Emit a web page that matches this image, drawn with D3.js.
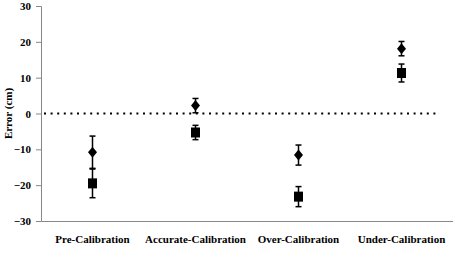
<!DOCTYPE html>
<html><head><meta charset="utf-8">
<script src="https://cdn.jsdelivr.net/npm/d3@7"></script>
<style>body{margin:0;background:#fff}svg{display:block}</style>
</head><body>
<svg id="c" width="453" height="255"></svg>
<script>
const categories = ["Pre-Calibration","Accurate-Calibration","Over-Calibration","Under-Calibration"];
const diamondValues = [-10.8, 2.2, -11.6, 18.1];
const diamondErrors = [4.5, 2.0, 2.8, 2.0];
const squareValues = [-19.5, -5.3, -23.2, 11.3];
const squareErrors = [4.0, 2.0, 2.8, 2.5];
const yTicks = [-30,-20,-10,0,10,20,30];

const svg = d3.select("#c");
const m = {l:41, r:0, t:6, b:34};
const W = 453, H = 255;
const x = d3.scaleBand().domain(categories).range([m.l, W - m.r]);
const y = d3.scaleLinear().domain([-30,30]).range([H - m.b, m.t]);
const font = "'Liberation Serif', 'Times New Roman', serif";

// y axis
const ya = svg.append("g").attr("transform",`translate(${m.l},0)`)
  .call(d3.axisLeft(y).tickValues(yTicks).tickSizeOuter(0).tickSize(5).tickPadding(5));
ya.select(".domain").attr("stroke","#888");
ya.selectAll(".tick line").attr("stroke","#888");
ya.selectAll("text").attr("font-family",font).attr("font-weight","bold").attr("font-size",11).attr("fill","#000");

// x axis
const xa = svg.append("g").attr("transform",`translate(0,${y(-30)})`)
  .call(d3.axisBottom(x).tickSize(0).tickPadding(14));
xa.select(".domain").attr("stroke","#888");
xa.selectAll("text").attr("font-family",font).attr("font-weight","bold").attr("font-size",11).attr("fill","#000");

// zero dotted line
svg.append("line").attr("x1",x.range()[0]+3).attr("x2",437)
  .attr("y1",y(0)).attr("y2",y(0))
  .attr("stroke","#000").attr("stroke-width",2).attr("stroke-dasharray","2,4.6");

// y label
svg.append("text").attr("transform",`translate(12,${y(0)}) rotate(-90)`)
  .attr("text-anchor","middle").attr("font-family",font).attr("font-weight","bold")
  .attr("font-size",11).text("Error (cm)");

function drawSeries(vals, errs, shape){
  const g = svg.append("g");
  categories.forEach((c,i)=>{
    const cx = x(c) + x.bandwidth()/2;
    const v = vals[i], e = errs[i];
    g.append("line").attr("x1",cx).attr("x2",cx).attr("y1",y(v+e)).attr("y2",y(v-e))
      .attr("stroke","#000").attr("stroke-width",1.5);
    [v+e, v-e].forEach(t=>{
      g.append("line").attr("x1",cx-3).attr("x2",cx+3).attr("y1",y(t)).attr("y2",y(t))
        .attr("stroke","#000").attr("stroke-width",1.5);
    });
    if(shape==="diamond"){
      const cy = y(v);
      g.append("path").attr("d",`M${cx},${cy-5.5}L${cx+4.5},${cy}L${cx},${cy+5.5}L${cx-4.5},${cy}Z`).attr("fill","#000");
    } else {
      const cy = y(v);
      g.append("rect").attr("x",cx-4.5).attr("y",cy-5).attr("width",9).attr("height",10).attr("fill","#000");
    }
  });
}
drawSeries(diamondValues, diamondErrors, "diamond");
drawSeries(squareValues, squareErrors, "square");
</script>
</body></html>
